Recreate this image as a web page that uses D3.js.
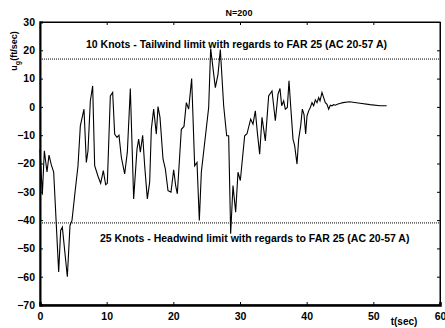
<!DOCTYPE html>
<html>
<head>
<meta charset="utf-8">
<script src="https://cdn.jsdelivr.net/npm/d3@7"></script>
<style>
  body { margin: 0; background: #fff; }
  svg text { font-family: "Liberation Sans", Arial, sans-serif; font-weight: bold; }
</style>
</head>
<body>
<script>
const margin = {top: 22, right: 5, bottom: 23, left: 40};
const width = 445 - margin.left - margin.right;
const height = 328 - margin.top - margin.bottom;

// gust velocity trace
const tSec = [0, 0.35, 0.65, 1.05, 1.35, 1.7, 2.05, 2.8, 3.1, 3.35, 4.1, 4.5, 4.8, 5.2, 5.7, 6.05, 6.6, 6.95, 7.2, 7.55, 7.9,
  8.2, 8.7, 9.1, 9.5, 9.85, 10.1, 10.55, 10.9, 11.2, 11.55, 11.85, 12.2, 12.7, 13.1, 13.55, 14.05, 14.55, 14.8, 15.05, 15.4,
  15.7, 16.1, 16.45, 16.7, 17.05, 17.45, 17.7, 18.0, 18.45, 18.8, 19.2, 19.65, 20.05, 20.35, 20.6, 21.2, 21.6, 21.95, 22.3,
  22.75, 23.2, 23.55, 23.9, 24.2, 25.3, 25.6, 26.3, 26.7, 27.05, 27.55, 28.0, 28.3, 28.6, 28.95, 29.35, 29.7, 30.05, 30.7,
  31.05, 31.6, 31.95, 32.3, 32.6, 32.95, 33.3, 33.8, 34.3, 34.8, 35.3, 35.7, 36.0, 36.25, 36.55, 36.8, 37.1, 37.35, 37.6,
  37.95, 38.2, 38.55, 38.8, 39.1, 39.35, 39.6, 39.85, 40.05, 40.3, 40.55, 40.8, 41.05, 41.3, 41.55, 41.8, 42.0, 42.3, 42.55,
  42.8, 43.05, 43.3, 43.55, 43.8, 44.05, 44.3, 44.6, 44.95, 45.45, 46.4, 48.0, 49.5, 51.0, 52.0];
const ug = [-15, -31, -15.5, -23, -17, -20.5, -23, -58.3, -43.6, -42.5, -60, -41.9, -40.1, -31.3, -20.8, -6.7, -0.8, -19.6, -15.5, 2.1, 7.4,
  -20.8, -24.5, -27, -22.5, -27.5, -27, 3.9, 5.1, -9.6, -10.8, -10, -17.8, -23.7, -16, 6.5, -32.5, -14.9, -11.4, -16, -10,
  -20.8, -32.5, -26.6, -7.9, -0.8, -9.6, 0.1, -3.7, -18.4, -21.9, -29.6, -30.1, -22.2, -27.8, -30.7, -7.9, -6.9, 1.5, -0.8,
  10, -20.8, -19.6, -40.1, -23.1, -0.2, 20.6, 6.8, 11.5, 20.3, 0.4, -10.2, -10.2, -44.8, -27.8, -37.2, -23.1, -26, -10.2,
  -9.5, -4.3, -6.1, -1.4, -9, -16.7, -3.7, -12, 3.9, 5.6, -4.9, 4.5, 6.5, 0.4, 2.1, -0.8, -0.2, 9.2, 0.4,
  -11.4, -13.7, -20.2, -11.4, -6.7, -0.8, -2.6, -9.6, -3.2, -1.4, -0.2, 1.5, 0.4, 2.5, 1.5, 3.3, 2.1, 5.1, 3.3,
  1.5, 0.9, -0.8, 0.6, 0.4, 0.8, 0.6, 0.9, 1.2, 1.5, 1.8, 1.3, 0.8, 0.4, 0.4];

const limitValues = [16.9, -41];
const limitLabels = ["10 Knots - Tailwind limit with regards to FAR 25 (AC 20-57 A)",
                     "25 Knots - Headwind limit with regards to FAR 25 (AC 20-57 A)"];
const xTicks = [0, 10, 20, 30, 40, 50, 60];
const yTicks = [30, 20, 10, 0, -10, -20, -30, -40, -50, -60, -70];

const svg = d3.select("body").append("svg")
    .attr("width", 445)
    .attr("height", 328);

const g = svg.append("g")
    .attr("transform", "translate(" + margin.left + "," + margin.top + ")");

const x = d3.scaleLinear().domain([0, 60]).range([0, width]);
const y = d3.scaleLinear().domain([-70, 30]).range([height, 0]);

// frame: top and right thin, left and bottom heavy
g.append("rect")
    .attr("x", 0).attr("y", 0)
    .attr("width", width).attr("height", height)
    .attr("fill", "none").attr("stroke", "#000").attr("stroke-width", 1);

// inward ticks on all four sides
const tickLen = 3;
const gx = g.append("g").attr("transform", "translate(0," + height + ")")
    .call(d3.axisBottom(x).tickValues(xTicks).tickSize(-tickLen).tickPadding(6));
const gxTop = g.append("g")
    .call(d3.axisTop(x).tickValues(xTicks).tickSize(-tickLen).tickFormat(""));
const gy = g.append("g")
    .call(d3.axisLeft(y).tickValues(yTicks).tickSize(-tickLen).tickPadding(5));
const gyRight = g.append("g").attr("transform", "translate(" + width + ",0)")
    .call(d3.axisRight(y).tickValues(yTicks).tickSize(-tickLen).tickFormat(""));

[gx, gxTop, gy, gyRight].forEach(function(a){
    a.selectAll("text").attr("font-size", "10.5px").attr("font-family", null).attr("fill", "#000");
    a.selectAll("line").attr("stroke", "#000");
});
gx.selectAll("text").attr("dy", "0.85em");
gx.select(".domain").attr("stroke", "#000").attr("stroke-width", 2.5);
gy.select(".domain").attr("stroke", "#000").attr("stroke-width", 2);
gxTop.select(".domain").attr("stroke", "#000");
gyRight.select(".domain").attr("stroke", "#000");

// FAR 25 limit lines
g.selectAll(".limit")
    .data(limitValues)
    .join("line")
    .attr("class", "limit")
    .attr("x1", 0).attr("x2", width)
    .attr("y1", d => y(d)).attr("y2", d => y(d))
    .attr("stroke", "#000").attr("stroke-width", 1)
    .attr("stroke-dasharray", "1,1");

g.selectAll(".limitLabel")
    .data(limitLabels)
    .join("text")
    .attr("class", "limitLabel")
    .attr("x", (d, i) => i == 0 ? 46 : 60)
    .attr("y", (d, i) => i == 0 ? 26 : 220)
    .attr("font-size", "10.5px")
    .text(d => d);

const line = d3.line()
    .x((d, i) => x(tSec[i]))
    .y(d => y(d));

g.append("path")
    .datum(ug)
    .attr("fill", "none")
    .attr("stroke", "#000")
    .attr("stroke-width", 1.1)
    .attr("stroke-linejoin", "miter")
    .attr("d", line);

// title and axis labels
svg.append("text")
    .attr("x", 239).attr("y", 15.5)
    .attr("text-anchor", "middle")
    .attr("font-size", "9px")
    .text("N=200");

svg.append("text")
    .attr("x", 404).attr("y", 325)
    .attr("text-anchor", "middle")
    .attr("font-size", "10px")
    .text("t(sec)");

const ylab = svg.append("text")
    .attr("transform", "translate(17,51) rotate(-90)")
    .attr("text-anchor", "middle")
    .attr("font-size", "9px");
ylab.append("tspan").text("u");
ylab.append("tspan").attr("font-size", "7px").attr("dy", "3").text("g");
ylab.append("tspan").attr("dy", "-3").text("(ft/sec)");
</script>
</body>
</html>
